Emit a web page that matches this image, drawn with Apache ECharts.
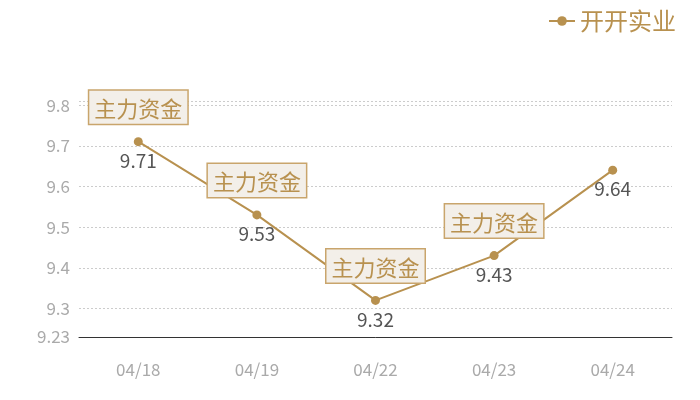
<!DOCTYPE html>
<html><head><meta charset="utf-8">
<script src="https://cdn.jsdelivr.net/npm/echarts@6/dist/echarts.min.js"></script>
<style>html,body{margin:0;padding:0;background:#fff}#c{width:700px;height:400px}</style>
</head><body><div id="c"></div>
<script>
const categories = ['04/18','04/19','04/22','04/23','04/24'];
const prices = [9.71, 9.53, 9.32, 9.43, 9.64];
const markedIdx = [0, 1, 2, 3];
const markText = '主力资金';
const seriesName = '开开实业';
const yMin = 9.23, yMax = 9.81;

const gold = '#b8914f';
const chart = echarts.init(document.getElementById('c'));
chart.setOption({
  animation: false,
  textStyle: { fontFamily: 'Noto Sans CJK SC, Noto Sans, sans-serif' },
  legend: {
    right: 19, top: 4,
    itemWidth: 26, itemHeight: 12, itemGap: 6,
    textStyle: { color: gold, fontSize: 24 },
    data: [seriesName]
  },
  grid: { left: 79, right: 28, top: 101, bottom: 63 },
  xAxis: {
    type: 'category', data: categories, boundaryGap: true,
    axisLine: { lineStyle: { color: '#333' } },
    axisTick: { show: false },
    axisLabel: { color: '#aaa', fontSize: 17, margin: 24 }
  },
  yAxis: {
    type: 'value', min: yMin, max: yMax, splitNumber: 5,
    axisLine: { show: false }, axisTick: { show: false },
    axisLabel: { color: '#aaa', fontSize: 17, margin: 9, showMaxLabel: false },
    splitLine: { lineStyle: { color: '#ccc', type: [2, 2] } }
  },
  series: [{
    name: seriesName, type: 'line', data: prices,
    symbol: 'circle', symbolSize: 9,
    itemStyle: { color: gold }, lineStyle: { color: gold, width: 2 },
    label: { show: true, position: 'bottom', distance: 5, color: '#555', fontSize: 19 },
    markPoint: {
      symbol: 'circle', symbolSize: 0,
      label: {
        show: true, position: 'top', distance: 18,
        formatter: markText,
        color: gold, fontSize: 22,
        backgroundColor: '#f3efe9',
        borderColor: '#c9a56c', borderWidth: 1.5,
        padding: [7, 5, 4, 5]
      },
      data: markedIdx.map(i => ({ coord: [categories[i], prices[i]], value: prices[i] }))
    }
  }]
});
</script></body></html>
